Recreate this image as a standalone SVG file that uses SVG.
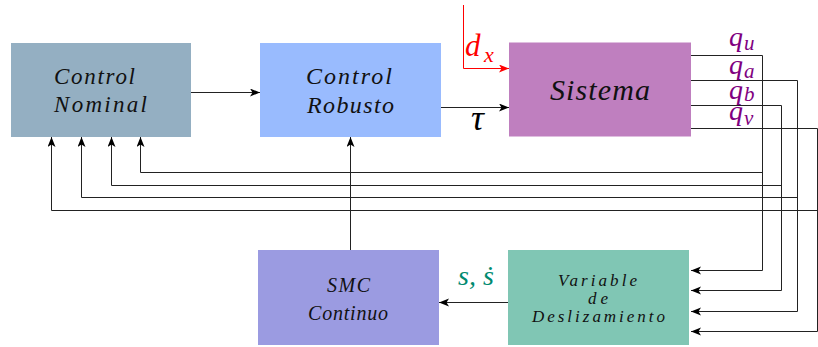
<svg xmlns="http://www.w3.org/2000/svg" width="818" height="347" viewBox="0 0 818 347">
<defs>
<marker id="ah" markerUnits="userSpaceOnUse" markerWidth="12" markerHeight="10" refX="10" refY="4" orient="auto">
<path d="M0,0 L10,4 L0,8 L2.5,4 Z" fill="#000"/>
</marker>
<marker id="ahr" markerUnits="userSpaceOnUse" markerWidth="12" markerHeight="10" refX="10" refY="4" orient="auto">
<path d="M0,0 L10,4 L0,8 L2.5,4 Z" fill="#ff0000"/>
</marker>
</defs>
<style>
text{font-family:'Liberation Serif','DejaVu Serif',serif;font-style:italic}
.t{fill:#111}
.c{fill:none;stroke:#222;stroke-width:1}
.q{fill:#800080}
</style>
<rect width="818" height="347" fill="#fff"/>
<g id="nominal">
<rect x="11" y="43" width="180" height="94" fill="#94afc2"/>
<text class="t" x="54" y="84" font-size="23" textLength="81" lengthAdjust="spacing">Control</text>
<text class="t" x="54" y="111.5" font-size="23" textLength="93" lengthAdjust="spacing">Nominal</text>
</g>
<g id="robusto">
<rect x="260" y="43" width="181" height="94" fill="#99bbfe"/>
<text class="t" x="306" y="83.5" font-size="24" textLength="86" lengthAdjust="spacing">Control</text>
<text class="t" x="307" y="113" font-size="24" textLength="87" lengthAdjust="spacing">Robusto</text>
</g>
<g id="sistema">
<rect x="509" y="42.5" width="182" height="94" fill="#bf7fbf"/>
<text class="t" x="550" y="100" font-size="30" textLength="100" lengthAdjust="spacing">Sistema</text>
</g>
<g id="smc">
<rect x="258" y="250" width="181" height="95" fill="#9b9be1"/>
<text class="t" x="327" y="292" font-size="20" textLength="43" lengthAdjust="spacing">SMC</text>
<text class="t" x="308" y="320" font-size="20" textLength="80" lengthAdjust="spacing">Continuo</text>
</g>
<g id="variable">
<rect x="508" y="250" width="181" height="95" fill="#80c6b4"/>
<text class="t" x="558" y="286" font-size="17" textLength="79" lengthAdjust="spacing">Variable</text>
<text class="t" x="588" y="304" font-size="17" textLength="20" lengthAdjust="spacing">de</text>
<text class="t" x="532" y="321.5" font-size="17" textLength="133" lengthAdjust="spacing">Deslizamiento</text>
</g>
<g id="connectors">
<path class="c" d="M191,92.5 H260" marker-end="url(#ah)"/>
<path class="c" d="M441,107.5 H509" marker-end="url(#ah)"/>
<path d="M463.5,5 V68.5 H509" fill="none" stroke="#ff0000" stroke-width="1" marker-end="url(#ahr)"/>
<path class="c" d="M350.5,250 V137" marker-end="url(#ah)"/>
<path class="c" d="M508,302.5 H439" marker-end="url(#ah)"/>
<path class="c" d="M691,55.5 H762.5 V270.5 H691" marker-end="url(#ah)"/>
<path class="c" d="M762.5,172.5 H140.5 V137" marker-end="url(#ah)"/>
<path class="c" d="M691,80.5 H797.5 V311.5 H691" marker-end="url(#ah)"/>
<path class="c" d="M797.5,197.5 H81.5 V137" marker-end="url(#ah)"/>
<path class="c" d="M691,105.5 H781.5 V290.5 H691" marker-end="url(#ah)"/>
<path class="c" d="M781.5,185.5 H111.5 V137" marker-end="url(#ah)"/>
<path class="c" d="M691,128.5 H817.5 V331.5 H691" marker-end="url(#ah)"/>
<path class="c" d="M817.5,210.5 H51.5 V137" marker-end="url(#ah)"/>
</g>
<g id="labels">
<text x="471" y="130" font-size="36" fill="#000">τ</text>
<text x="465" y="55.5" font-size="31" fill="#ff0000">d<tspan x="484" y="61.5" font-size="22">x</tspan></text>
<text class="q" x="729" y="45.5" font-size="28">q<tspan x="744" y="50" font-size="21">u</tspan></text>
<text class="q" x="729" y="74" font-size="28">q<tspan x="744" y="77.5" font-size="21">a</tspan></text>
<text class="q" x="729" y="99" font-size="28">q<tspan x="744" y="101" font-size="21">b</tspan></text>
<text class="q" x="729" y="120" font-size="28">q<tspan x="744" y="125" font-size="21">v</tspan></text>
<text x="458" y="285" font-size="28" fill="#008a70">s, ṡ</text>
</g>
</svg>
